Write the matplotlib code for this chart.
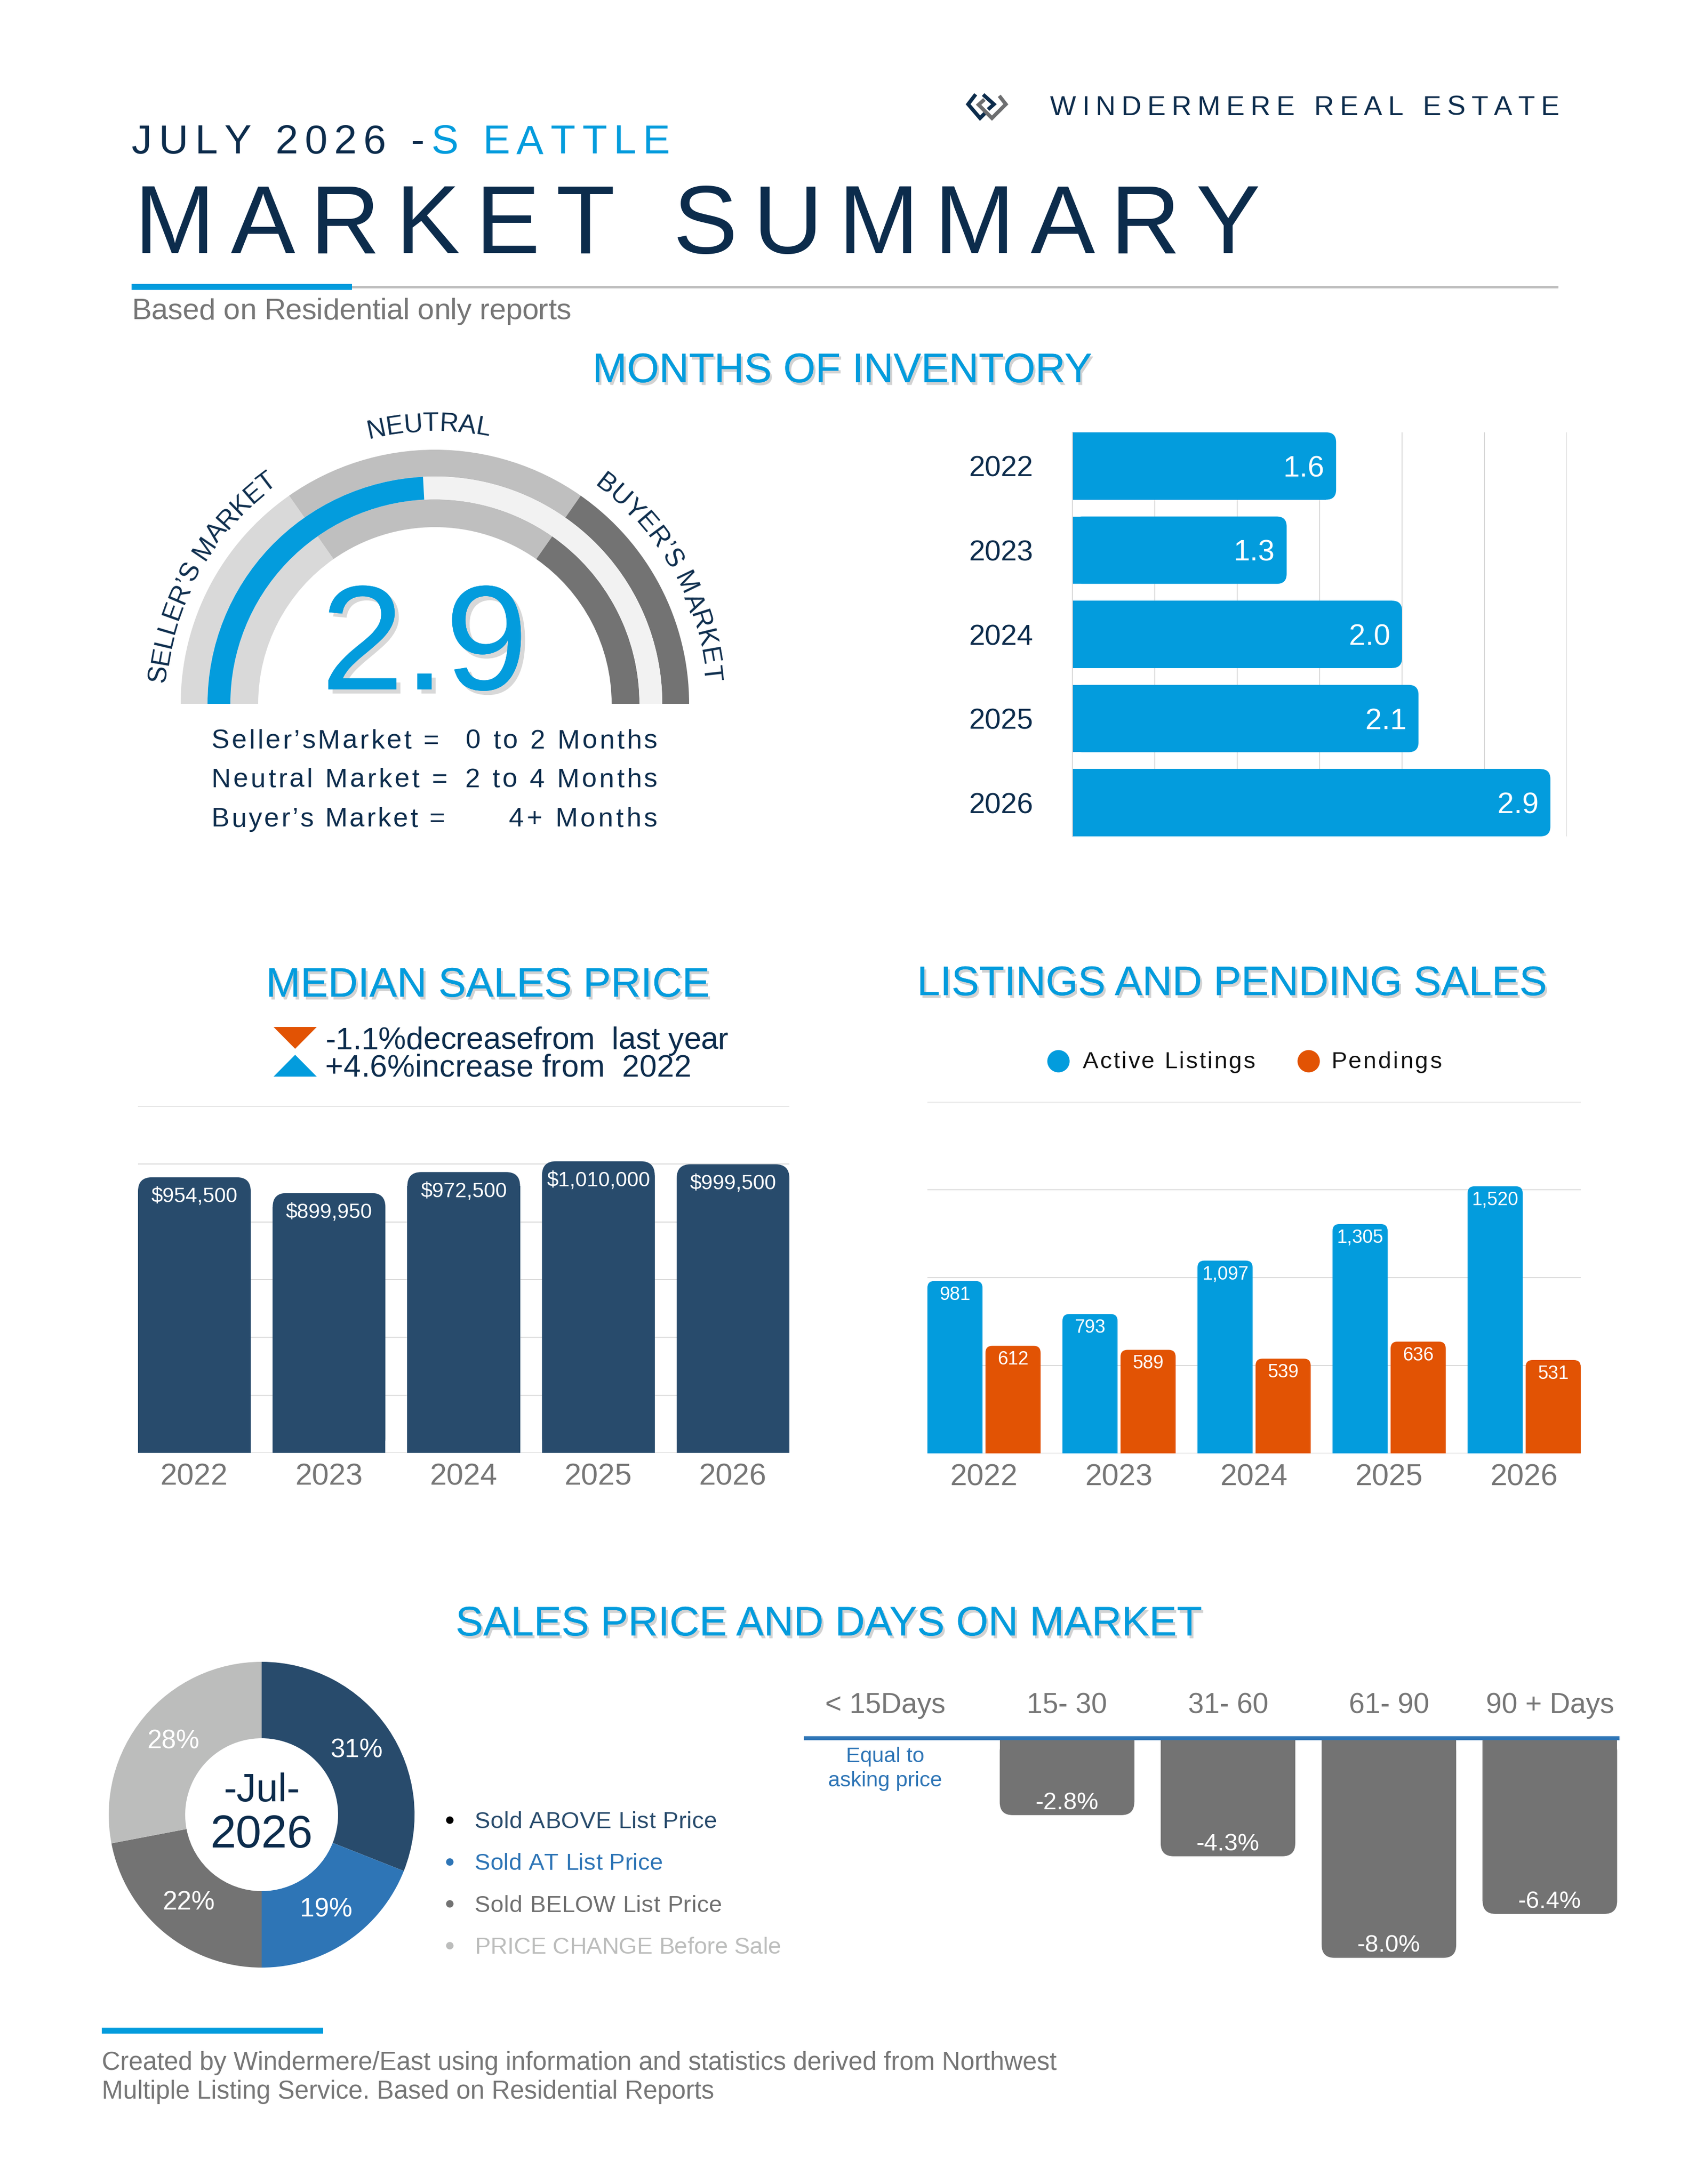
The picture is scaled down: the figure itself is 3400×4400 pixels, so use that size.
import numpy as np
import matplotlib
matplotlib.use("Agg")
import matplotlib.pyplot as plt
from matplotlib.patches import Wedge, Rectangle, FancyBboxPatch, Polygon, Circle
from matplotlib.lines import Line2D
import matplotlib.patheffects as pe
from matplotlib import font_manager
from matplotlib.font_manager import FontProperties
from matplotlib.ft2font import FT2Font

plt.rcParams['font.family'] = ['Liberation Sans', 'DejaVu Sans']

# ---------------- data ----------------
INV_YEARS = ['2022', '2023', '2024', '2025', '2026']
INV_MONTHS = [1.6, 1.3, 2.0, 2.1, 2.9]
GAUGE_VALUE = 2.9
GAUGE_MAX = 6.0

PRICE_YEARS = ['2022', '2023', '2024', '2025', '2026']
MEDIAN_PRICES = [954500, 899950, 972500, 1010000, 999500]

LIST_YEARS = ['2022', '2023', '2024', '2025', '2026']
ACTIVE_LISTINGS = [981, 793, 1097, 1305, 1520]
PENDINGS = [612, 589, 539, 636, 531]

SOLD_LABELS = ['Sold ABOVE List Price', 'Sold AT List Price',
               'Sold BELOW List Price', 'PRICE CHANGE Before Sale']
SOLD_SHARES = [31, 19, 22, 28]

DOM_LABELS = ['< 15Days', '15- 30', '31- 60', '61- 90', '90 + Days']
DOM_CHANGE = [0.0, -2.8, -4.3, -8.0, -6.4]

# ---------------- style ----------------
W, H, DPI = 3400, 4400, 100
PT = 72.0 / DPI
NAVY = '#0C2C4C'
BLUE = '#039CDD'
DARK_BAR = '#284B6C'
ORANGE = '#E25304'
GRAY_TXT = '#767676'
GRID = '#D9D9D9'
DAYS_BAR = '#737373'
LINE_BLUE = '#2E75B6'
DONUT_COLORS = ['#284B6C', '#2E75B6', '#737373', '#BCBDBC']

FONT_PATH = font_manager.findfont(FontProperties(family='Liberation Sans'))
_ft = FT2Font(FONT_PATH, hinting_factor=1)


def advances(s, size):
    _ft.set_size(size, DPI)
    out = []
    for ch in s:
        g = _ft.load_char(ord(ch))
        out.append(g.linearHoriAdvance / 65536.0)
    return out


fig = plt.figure(figsize=(W / DPI, H / DPI), dpi=DPI)
fig.patch.set_facecolor('white')
ov = fig.add_axes([0, 0, 1, 1])
ov.set_xlim(0, W)
ov.set_ylim(0, H)
ov.axis('off')


def Y(y):
    return H - y


def add_ax(x0, y0, x1, y1):
    a = fig.add_axes([x0 / W, (H - y1) / H, (x1 - x0) / W, (y1 - y0) / H])
    a.patch.set_visible(False)
    return a


def tracked(x, y, segs, size, width=None, track=0.0, ha='left', color=NAVY, **kw):
    if isinstance(segs, str):
        segs = [(segs, color)]
    chars = []
    for t, c in segs:
        for ch in t:
            chars.append((ch, c))
    s = ''.join(ch for ch, _ in chars)
    adv = advances(s, size)
    n = len(s)
    natural = sum(adv)
    if width is not None and n > 1:
        track = (width - natural) / (n - 1)
    total = natural + track * (n - 1)
    if ha == 'left':
        x0 = x
    elif ha == 'center':
        x0 = x - total / 2
    else:
        x0 = x - total
    cur = x0
    for (ch, c), a in zip(chars, adv):
        if ch != ' ':
            ov.text(cur + a / 2, Y(y), ch, fontsize=size, color=c,
                    ha='center', va='baseline', **kw)
        cur += a + track


def curved(text, cx, cy, r, a_start, a_end, size, color=NAVY):
    adv = advances(text, size)
    total = sum(adv)
    cum = 0.0
    for ch, a in zip(text, adv):
        frac = (cum + a / 2) / total
        th = np.radians(a_start + (a_end - a_start) * frac)
        x = cx + r * np.cos(th)
        y = Y(cy) + r * np.sin(th)
        ov.text(x, y, ch, rotation=np.degrees(th) - 90, rotation_mode='anchor',
                ha='center', va='baseline', fontsize=size, color=color)
        cum += a


def section_title(x, y, s):
    ov.text(x, Y(y), s, fontsize=60, color=BLUE, ha='center', va='baseline',
            path_effects=[pe.withSimplePatchShadow(offset=(3, -4), shadow_rgbFace='#7F7F7F', alpha=0.35),
                          pe.Normal()])


def round_bars(ax, bars, rad_px, side):
    pos = ax.get_position()
    wpx, hpx = pos.width * W, pos.height * H
    x0, x1 = ax.get_xlim()
    y0, y1 = ax.get_ylim()
    rx = rad_px * abs(x1 - x0) / wpx
    ry = rad_px * abs(y1 - y0) / hpx
    for b in bars:
        x, y, w, h = b.get_x(), b.get_y(), b.get_width(), b.get_height()
        if w < 0:
            x += w
            w = -w
        if h < 0:
            y += h
            h = -h
        c = b.get_facecolor()
        b.set_visible(False)
        if w == 0 or h == 0:
            continue
        fb = FancyBboxPatch((x, y), w, h, boxstyle=f'round,pad=0,rounding_size={rx}',
                            mutation_aspect=ry / rx, fc=c, ec='none', zorder=2)
        ax.add_patch(fb)
        if side == 'top':
            flat = Rectangle((x, y), w, max(h - ry, 0), fc=c, ec='none', zorder=2)
        elif side == 'bottom':
            flat = Rectangle((x, y + ry), w, max(h - ry, 0), fc=c, ec='none', zorder=2)
        else:
            flat = Rectangle((x, y), max(w - rx, 0), h, fc=c, ec='none', zorder=2)
        ax.add_patch(flat)


# ---------------- header ----------------
lw_logo = 7.5 * PT
for pts in [[(1983, 229), (1974, 238), (1950, 210), (1963, 193)],
            [(1983, 193), (2002, 210), (1993, 218)]]:
    xs, ys = zip(*pts)
    ov.add_line(Line2D(xs, [Y(v) for v in ys], color=NAVY, lw=lw_logo, solid_joinstyle='miter'))
for pts in [[(1980, 203), (1971, 211), (1998, 238), (2026, 210), (2015, 196)]]:
    xs, ys = zip(*pts)
    ov.add_line(Line2D(xs, [Y(v) for v in ys], color='#6D6E70', lw=lw_logo, solid_joinstyle='miter'))

tracked(2115, 232, 'WINDERMERE REAL ESTATE', 40, width=1026, color=NAVY)
tracked(265, 309, [('JULY 2026 -', NAVY), ('S EATTLE', BLUE)], 59, width=1084)
tracked(271, 510, 'MARKET SUMMARY', 140, width=2267, color=NAVY)
ov.add_patch(Rectangle((709, Y(581)), 2430, 5, fc='#BFBFBF', ec='none'))
ov.add_patch(Rectangle((265, Y(584)), 444, 12, fc=BLUE, ec='none'))
tracked(265, 643, 'Based on Residential only reports', 43, width=885, color=GRAY_TXT)

# ---------------- months of inventory ----------------
section_title(1697, 770, 'MONTHS OF INVENTORY')

GC = (876, Y(1418))
bands = [(458, 512), (412, 458), (356, 412)]
seg_cols = [((125, 180), '#D9D9D9'), ((55, 125), '#BFBFBF'), ((0, 55), '#737373')]
for bi in (0, 2):
    r_in, r_out = bands[bi]
    for (a1, a2), c in seg_cols:
        ov.add_patch(Wedge(GC, r_out, a1, a2, width=r_out - r_in, fc=c, ec='none'))
val_angle = 180.0 * (1 - GAUGE_VALUE / GAUGE_MAX)
r_in, r_out = bands[1]
ov.add_patch(Wedge(GC, r_out, 0, val_angle, width=r_out - r_in, fc='#F2F2F2', ec='none'))
ov.add_patch(Wedge(GC, r_out, val_angle, 180, width=r_out - r_in, fc=BLUE, ec='none'))

curved("SELLER’S MARKET", 876, 1418, 545, 175.5, 125.5, 38)
curved("NEUTRAL", 876, 1418, 550, 104, 78.5, 38)
curved("BUYER’S MARKET", 876, 1418, 545, 54, 4.5, 38)

ov.text(855, Y(1389), f'{GAUGE_VALUE:.1f}', fontsize=216, color=BLUE, ha='center', va='baseline',
        path_effects=[pe.withSimplePatchShadow(offset=(6, -6), shadow_rgbFace='#666666', alpha=0.25),
                      pe.Normal()])

for left, right, base, wl, wr in [('Seller’sMarket =', '0 to 2 Months', 1508, 458, 386),
                                  ('Neutral Market =', '2 to 4 Months', 1586, 475, 388),
                                  ('Buyer’s Market =', '4+ Months', 1665, 470, 299)]:
    tracked(426, base, left, 39, width=wl, color=NAVY)
    tracked(1324, base, right, 39, width=wr, ha='right', color=NAVY)

axm = add_ax(2160, 871, 3156, 1685)
mbars = axm.barh(range(len(INV_MONTHS)), INV_MONTHS, height=0.8, color=BLUE, zorder=2)
axm.set_xlim(0, 3)
axm.set_ylim(4.4, -0.4)
axm.set_xticks(np.arange(0, 3.01, 0.5))
axm.set_xticklabels([])
axm.tick_params(axis='x', length=0)
axm.grid(axis='x', color=GRID, lw=2 * PT)
axm.set_axisbelow(True)
for sp in ['top', 'right', 'bottom']:
    axm.spines[sp].set_visible(False)
axm.spines['left'].set_color(GRID)
axm.spines['left'].set_linewidth(2 * PT)
axm.set_yticks(range(len(INV_YEARS)))
axm.set_yticklabels(INV_YEARS, fontsize=42, color=NAVY)
axm.tick_params(axis='y', length=0, pad=57)
for i, v in enumerate(INV_MONTHS):
    axm.annotate(f'{v:.1f}', xy=(v, i), xytext=(-24, 0), textcoords='offset pixels',
                 ha='right', va='center_baseline', color='white', fontsize=43, zorder=5)
round_bars(axm, mbars, 20, 'right')

# ---------------- median sales price ----------------
section_title(983, 2008, 'MEDIAN SALES PRICE')
ov.add_patch(Polygon([(551, Y(2069)), (638, Y(2069)), (594.5, Y(2113))], closed=True, fc=ORANGE, ec='none'))
ov.add_patch(Polygon([(551, Y(2169)), (638, Y(2169)), (594.5, Y(2125))], closed=True, fc=BLUE, ec='none'))
tracked(655, 2114, '-1.1%decreasefrom  last year', 45, width=812, color=NAVY)
tracked(655, 2169, '+4.6%increase from  2022', 45, width=738, color=NAVY)

axp = add_ax(278, 2229, 1590, 2927)
pbars = axp.bar(range(len(MEDIAN_PRICES)), MEDIAN_PRICES, width=0.837, color=DARK_BAR, zorder=2)
axp.set_xlim(-0.4185, 4.4185)
axp.set_ylim(0, 1.2e6)
axp.set_yticks(np.arange(0, 1.2e6 + 1, 2e5))
axp.set_yticklabels([])
axp.grid(axis='y', color=GRID, lw=2 * PT)
axp.set_axisbelow(True)
for sp in axp.spines.values():
    sp.set_visible(False)
axp.set_xticks(range(len(PRICE_YEARS)))
axp.set_xticklabels(PRICE_YEARS, fontsize=44, color=GRAY_TXT)
axp.tick_params(axis='both', length=0)
axp.tick_params(axis='x', pad=15)
for i, v in enumerate(MEDIAN_PRICES):
    axp.annotate(f'${v:,.0f}', xy=(i, v), xytext=(0, -50), textcoords='offset pixels',
                 ha='center', va='baseline', color='white', fontsize=30, zorder=5)
round_bars(axp, pbars, 28, 'top')

# ---------------- listings and pendings ----------------
section_title(2482, 2005, 'LISTINGS AND PENDING SALES')
ov.add_patch(Circle((2132, Y(2138)), 22.5, fc=BLUE, ec='none'))
ov.add_patch(Circle((2636, Y(2138)), 22.5, fc=ORANGE, ec='none'))
tracked(2181, 2152, 'Active Listings', 34, width=347, color='#111111')
tracked(2681, 2152, 'Pendings', 34, width=223, color='#111111')

axl = add_ax(1868, 2220, 3184, 2928)
xs = np.arange(len(LIST_YEARS))
lb1 = axl.bar(xs - 0.215, ACTIVE_LISTINGS, width=0.408, color=BLUE, zorder=2)
lb2 = axl.bar(xs + 0.215, PENDINGS, width=0.408, color=ORANGE, zorder=2)
axl.set_xlim(-0.419, 4.419)
axl.set_ylim(0, 2000)
axl.set_yticks(np.arange(0, 2001, 500))
axl.set_yticklabels([])
axl.grid(axis='y', color=GRID, lw=2 * PT)
axl.set_axisbelow(True)
for sp in axl.spines.values():
    sp.set_visible(False)
axl.set_xticks(xs)
axl.set_xticklabels(LIST_YEARS, fontsize=44, color=GRAY_TXT)
axl.tick_params(axis='both', length=0)
axl.tick_params(axis='x', pad=15)
for i in range(len(LIST_YEARS)):
    for off, v in ((-0.215, ACTIVE_LISTINGS[i]), (0.215, PENDINGS[i])):
        axl.annotate(f'{v:,}', xy=(i + off, v), xytext=(0, -38), textcoords='offset pixels',
                     ha='center', va='baseline', color='white', fontsize=27, zorder=5)
round_bars(axl, list(lb1) + list(lb2), 14, 'top')

# ---------------- sales price and days on market ----------------
section_title(1670, 3295, 'SALES PRICE AND DAYS ON MARKET')

axd = add_ax(219, 3348, 835, 3964)
axd.pie(SOLD_SHARES, colors=DONUT_COLORS, startangle=90, counterclock=False, radius=1,
        wedgeprops=dict(width=0.5, edgecolor='none'), autopct='%d%%', pctdistance=0.75,
        textprops=dict(color='white', fontsize=38))
axd.set_xlim(-1, 1)
axd.set_ylim(-1, 1)
axd.axis('off')
ov.text(527, Y(3629), '-Jul-', fontsize=57, color=NAVY, ha='center', va='baseline')
ov.text(527, Y(3722), '2026', fontsize=67, color=NAVY, ha='center', va='baseline')

bullet_cols = ['#000000', DONUT_COLORS[1], DONUT_COLORS[2], DONUT_COLORS[3]]
text_cols = [DONUT_COLORS[0], DONUT_COLORS[1], '#6F6F6F', DONUT_COLORS[3]]
widths = [488, 379, 498, 617]
for k, lab in enumerate(SOLD_LABELS):
    base = 3683 + k * 84.3
    ov.add_patch(Circle((906, Y(base - 16)), 7.5, fc=bullet_cols[k], ec='none'))
    tracked(956, base, lab, 34, width=widths[k], color=text_cols[k])

axdm = add_ax(1623, 3502, 3258, 3972)
dbars = axdm.bar(range(len(DOM_CHANGE)), DOM_CHANGE, width=0.836, color=DAYS_BAR, zorder=2)
axdm.set_xlim(-0.623, 4.42)
axdm.set_ylim(-8.5, 0)
axdm.axis('off')
axdm.axhline(0, color=LINE_BLUE, lw=8 * PT, zorder=6, clip_on=False)
for i, (lab, v) in enumerate(zip(DOM_LABELS, DOM_CHANGE)):
    dx = -42 if i == 0 else 0
    axdm.annotate(lab, xy=(i, 0), xytext=(dx, 51), textcoords='offset pixels',
                  ha='center', va='baseline', color=GRAY_TXT, fontsize=41, annotation_clip=False)
    if v < 0:
        axdm.annotate(f'{v:.1f}%', xy=(i, v), xytext=(0, 12), textcoords='offset pixels',
                      ha='center', va='baseline', color='white', fontsize=35, zorder=7)
    else:
        axdm.annotate('Equal to', xy=(i, 0), xytext=(dx, -48), textcoords='offset pixels',
                      ha='center', va='baseline', color=LINE_BLUE, fontsize=31, annotation_clip=False)
        axdm.annotate('asking price', xy=(i, 0), xytext=(dx, -97), textcoords='offset pixels',
                      ha='center', va='baseline', color=LINE_BLUE, fontsize=31, annotation_clip=False)
round_bars(axdm, dbars, 26, 'bottom')

# ---------------- footer ----------------
ov.add_patch(Rectangle((205, Y(4097)), 446, 12, fc=BLUE, ec='none'))
ov.text(205, Y(4170), 'Created by Windermere/East using information and statistics derived from Northwest',
        fontsize=37, color=GRAY_TXT, ha='left', va='baseline')
ov.text(205, Y(4228), 'Multiple Listing Service. Based on Residential Reports',
        fontsize=37, color=GRAY_TXT, ha='left', va='baseline')

fig.savefig('out.png', dpi=DPI, facecolor='white')
